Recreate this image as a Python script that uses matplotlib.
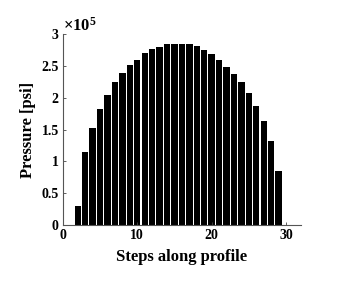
import numpy as np
import matplotlib
matplotlib.use("Agg")
import matplotlib.pyplot as plt
from matplotlib.ticker import FuncFormatter

# pressure along profile (units of 1e5 psi)
steps = list(range(2, 30))
pressure_e5 = [0.30, 1.15, 1.53, 1.83, 2.05, 2.24, 2.39, 2.52, 2.60, 2.70,
               2.76, 2.80, 2.84, 2.85, 2.85, 2.84, 2.82, 2.75, 2.68, 2.60,
               2.49, 2.38, 2.24, 2.07, 1.87, 1.63, 1.32, 0.85]
pressure = np.array(pressure_e5) * 1e5

xticks = [0, 10, 20, 30]
yticks = [0, 0.5e5, 1e5, 1.5e5, 2e5, 2.5e5, 3e5]

plt.rcParams['font.family'] = ['Liberation Serif', 'DejaVu Serif']
plt.rcParams['font.weight'] = 'bold'
plt.rcParams['mathtext.fontset'] = 'custom'
plt.rcParams['mathtext.rm'] = 'Liberation Serif'
plt.rcParams['mathtext.default'] = 'rm'

fig = plt.figure(figsize=(3.4, 2.84), dpi=100)
ax = fig.add_axes([0.185, 0.208, 0.70, 0.672])

ax.bar(steps, pressure, width=0.86, color='black', edgecolor='none')

ax.set_xlim(0, 32)
ax.set_ylim(0, 3e5)
ax.set_xticks(xticks)
ax.set_yticks(yticks)
ax.yaxis.set_major_formatter(FuncFormatter(lambda v, p: '%g' % (v / 1e5)))
ax.tick_params(direction='in', length=2, width=0.6, labelsize=10,
               colors='#444444', labelcolor='black', pad=3)

for s in ['top', 'right']:
    ax.spines[s].set_visible(False)
for s in ['left', 'bottom']:
    ax.spines[s].set_color('#555555')
    ax.spines[s].set_linewidth(0.8)

ax.text(0.0, 0.995, r'$\times 10^5$', transform=ax.transAxes, fontsize=12,
        fontweight='normal', ha='left', va='bottom')

ax.set_xlabel('Steps along profile', fontsize=12, fontweight='bold', labelpad=5)
ax.set_ylabel('Pressure [psi]', fontsize=12, fontweight='bold', labelpad=4)

fig.savefig('out.png', dpi=100)
